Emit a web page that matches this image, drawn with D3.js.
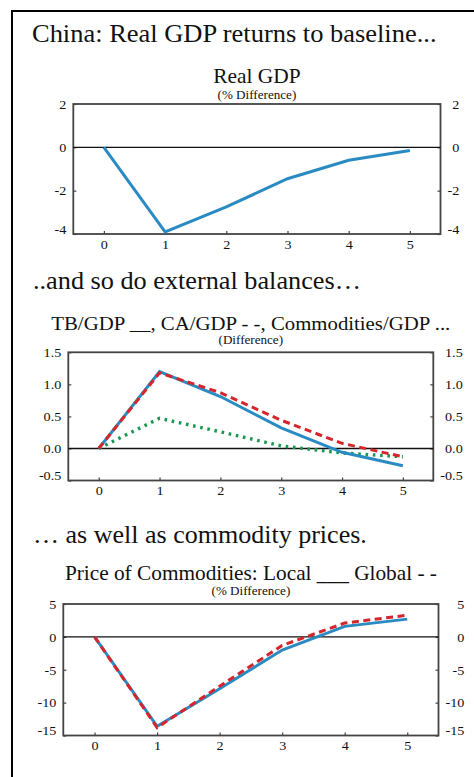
<!DOCTYPE html>
<html>
<head>
<meta charset="utf-8">
<script src="https://cdn.jsdelivr.net/npm/d3@7"></script>
<style>
    html, body { margin: 0; padding: 0; background: #fff; }
    #chart { width: 474px; height: 777px; }
    text { font-family: "Liberation Serif", "Times New Roman", serif; fill: #111; }
</style>
</head>
<body>
<div id="chart"></div>
<script>
//Datos
const years = [0, 1, 2, 3, 4, 5];

const realGdp = [0, -3.9, -2.75, -1.45, -0.6, -0.15];

const tbGdp = [0, 1.2, 0.81, 0.32, -0.06, -0.27];
const caGdp = [0, 1.18, 0.87, 0.44, 0.08, -0.13];
const commGdp = [0, 0.47, 0.26, 0.04, -0.07, -0.13];

const localPrice = [0, -13.6, -7.9, -2.0, 1.6, 2.7];
const globalPrice = [0, -13.8, -7.5, -1.3, 2.1, 3.3];

const gdpTicks = [2, 0, -2, -4];
const balTicks = [1.5, 1.0, 0.5, 0.0, -0.5];
const priceTicks = [5, 0, -5, -10, -15];

//Colores fijos
const COLOR_BLUE = '#2a8bc3',
    COLOR_RED = '#d6262b',
    COLOR_GREEN = '#1a9850',
    COLOR_FRAME = '#444';

//el texto del original está algo estirado en horizontal
const SX = 1.05;

let svg = d3.select('#chart')
    .append('svg')
    .attr('width', 474)
    .attr('height', 777);

//Marco exterior (izquierda y arriba)
svg.append('path')
    .attr('d', 'M12,777V11H474')
    .attr('fill', 'none')
    .attr('stroke', '#000')
    .attr('stroke-width', 2);

function stretchText(parent, x, y, str, size, anchor) {
    return parent.append('g')
        .attr('transform', 'translate(' + x + ',' + y + ') scale(' + SX + ',1)')
        .append('text')
        .attr('text-anchor', anchor || 'start')
        .style('font-size', size + 'px')
        .text(str);
}

//Titulares de cada bloque
stretchText(svg, 32, 42, 'China: Real GDP returns to baseline...', 25.2);
stretchText(svg, 33, 289, '..and so do external balances\u2026', 25);
stretchText(svg, 33, 543, '\u2026 as well as commodity prices.', 24.8);

function drawPanel(opts) {
    let width = opts.right - opts.left,
        height = opts.bottom - opts.top;

    let g = svg.append('g')
        .attr('transform', 'translate(' + opts.left + ',' + opts.top + ')');

    let x = d3.scaleLinear()
        .domain([-0.5, 5.5])
        .range([0, width]);

    let y = d3.scaleLinear()
        .domain(d3.extent(opts.ticks))
        .range([height, 0]);

    //Títulos
    stretchText(g, width / 2, opts.titleY - opts.top, opts.title, opts.titleSize, 'middle');
    stretchText(g, width / 2, opts.subY - opts.top, opts.sub, 12.5, 'middle');

    let fmt = opts.fmt || function(d) { return String(d); };
    let minTick = d3.min(opts.ticks);

    //Ejes
    let yLeft = g.append('g')
        .call(d3.axisLeft(y).tickValues(opts.ticks).tickFormat(fmt).tickSize(-3).tickPadding(7));

    let yRight = g.append('g')
        .attr('transform', 'translate(' + width + ',0)')
        .call(d3.axisRight(y).tickValues(opts.ticks).tickFormat(fmt).tickSize(-3).tickPadding(7));

    let xAxis = g.append('g')
        .attr('transform', 'translate(0,' + height + ')')
        .call(d3.axisBottom(x).tickValues(years).tickFormat(d3.format('d')).tickSize(-3).tickPadding(5));

    [yLeft, yRight, xAxis].forEach(function(a) {
        a.select('.domain').remove();
        a.selectAll('.tick line').attr('stroke', COLOR_FRAME).attr('stroke-width', 1.2);
        a.selectAll('.tick text')
            .attr('font-family', null)
            .style('font-size', '13.5px')
            .attr('fill', '#111');
    });

    //etiquetas: escalado horizontal como el resto del texto
    yLeft.selectAll('.tick text')
        .attr('x', -7 / SX)
        .attr('transform', 'scale(' + SX + ',1)');

    //la derecha se alinea a la derecha, en una columna
    let maxW = 0;
    yRight.selectAll('.tick text').each(function() {
        maxW = Math.max(maxW, this.getComputedTextLength() * SX);
    });
    yRight.selectAll('.tick text')
        .attr('text-anchor', 'end')
        .attr('x', (7 + maxW) / SX)
        .attr('transform', 'scale(' + SX + ',1)');

    [yLeft, yRight].forEach(function(a) {
        a.selectAll('.tick text')
            .filter(function(d) { return d === minTick; })
            .attr('y', -5);
    });

    xAxis.selectAll('.tick text')
        .attr('transform', 'scale(' + SX + ',1)');

    //Caja
    g.append('rect')
        .attr('width', width)
        .attr('height', height)
        .attr('fill', 'none')
        .attr('stroke', COLOR_FRAME)
        .attr('stroke-width', 1.8);

    //Línea de cero
    g.append('line')
        .attr('x1', 0)
        .attr('x2', width)
        .attr('y1', y(0))
        .attr('y2', y(0))
        .attr('stroke', '#111')
        .attr('stroke-width', 1.4);

    let line = d3.line()
        .x(function(d, i) { return x(years[i]); })
        .y(function(d) { return y(d); });

    opts.series.forEach(function(s) {
        g.append('path')
            .datum(s.values)
            .attr('d', line)
            .attr('fill', 'none')
            .attr('stroke', s.color)
            .attr('stroke-width', s.width || 3)
            .attr('stroke-dasharray', s.dash || null);
    });
}

drawPanel({
    left: 73.3, right: 440.5, top: 104, bottom: 234,
    ticks: gdpTicks,
    title: 'Real GDP', titleSize: 20.4, titleY: 83,
    sub: '(% Difference)', subY: 98.5,
    series: [
        { values: realGdp, color: COLOR_BLUE }
    ]
});

drawPanel({
    left: 68.3, right: 433.3, top: 352.3, bottom: 480.5,
    ticks: balTicks,
    fmt: function(d) { return d.toFixed(1); },
    title: 'TB/GDP __, CA/GDP - -, Commodities/GDP ...', titleSize: 19.8, titleY: 330,
    sub: '(Difference)', subY: 344,
    series: [
        { values: commGdp, color: COLOR_GREEN, dash: '2.6,4.7', width: 3.4 },
        { values: tbGdp, color: COLOR_BLUE },
        { values: caGdp, color: COLOR_RED, dash: '7,4.5' }
    ]
});

drawPanel({
    left: 63.3, right: 438.5, top: 604, bottom: 735.5,
    ticks: priceTicks,
    title: 'Price of Commodities: Local ___ Global - -', titleSize: 20.3, titleY: 580,
    sub: '(% Difference)', subY: 595,
    series: [
        { values: localPrice, color: COLOR_BLUE },
        { values: globalPrice, color: COLOR_RED, dash: '7,4.5' }
    ]
});
</script>
</body>
</html>
